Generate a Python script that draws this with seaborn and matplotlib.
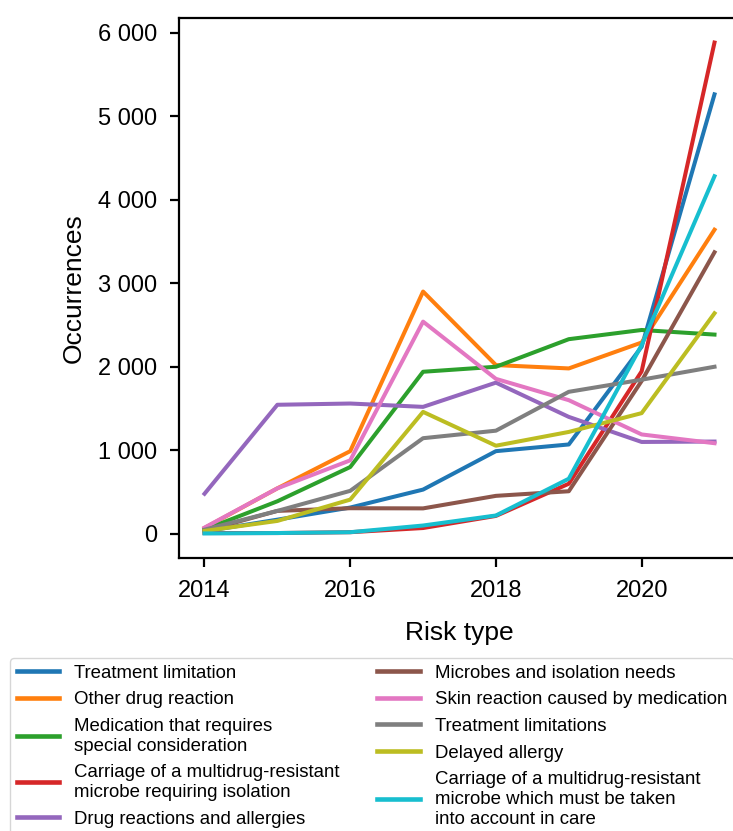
import pandas as pd
import seaborn as sns
import matplotlib.pyplot as plt
from matplotlib.ticker import FuncFormatter

years = [2014, 2015, 2016, 2017, 2018, 2019, 2020, 2021]

risk_types = [
    "Treatment limitation",
    "Other drug reaction",
    "Medication that requires\nspecial consideration",
    "Carriage of a multidrug-resistant\nmicrobe requiring isolation",
    "Drug reactions and allergies",
    "Microbes and isolation needs",
    "Skin reaction caused by medication",
    "Treatment limitations",
    "Delayed allergy",
    "Carriage of a multidrug-resistant\nmicrobe which must be taken\ninto account in care",
]

treatment_limitation = [30, 170, 315, 530, 990, 1070, 2240, 5260]
other_drug_reaction = [70, 545, 990, 2900, 2020, 1980, 2290, 3640]
medication_special = [50, 390, 800, 1940, 2000, 2330, 2440, 2385]
carriage_isolation = [10, 10, 20, 70, 215, 600, 1945, 5880]
drug_reactions_allergies = [480, 1545, 1560, 1520, 1810, 1400, 1100, 1105]
microbes_isolation = [35, 275, 307, 305, 455, 510, 1830, 3370]
skin_reaction = [75, 545, 880, 2540, 1855, 1600, 1190, 1085]
treatment_limitations = [50, 275, 515, 1145, 1235, 1700, 1845, 2000]
delayed_allergy = [35, 155, 410, 1460, 1055, 1220, 1445, 2640]
carriage_care = [5, 10, 20, 100, 220, 660, 2260, 4280]

series = [treatment_limitation, other_drug_reaction, medication_special,
          carriage_isolation, drug_reactions_allergies, microbes_isolation,
          skin_reaction, treatment_limitations, delayed_allergy, carriage_care]

rows = []
for name, vals in zip(risk_types, series):
    for y, v in zip(years, vals):
        rows.append({"year": y, "count": v, "risk": name})
df = pd.DataFrame(rows)

plt.rcParams["font.family"] = ["Liberation Sans", "DejaVu Sans"]
plt.rcParams["axes.linewidth"] = 1.6

fig = plt.figure(figsize=(7.33, 8.31), dpi=100)
ax = fig.add_axes([179 / 733, 1 - 558 / 831, 561 / 733, 540 / 831])

sns.lineplot(data=df, x="year", y="count", hue="risk", hue_order=risk_types,
             palette="tab10", linewidth=2.9, ax=ax)

ax.set_xticks([2014, 2016, 2018, 2020])
ax.yaxis.set_major_formatter(FuncFormatter(lambda v, p: f"{v:,.0f}".replace(",", " ")))
ax.tick_params(labelsize=17, length=6.5, width=1.6)
ax.tick_params(axis="x", pad=9)
ax.tick_params(axis="y", pad=9.4)
ax.set_xlabel("Risk type", fontsize=19, labelpad=14)
ax.set_ylabel("Occurrences", fontsize=19, labelpad=8.5)

handles, labels = ax.get_legend_handles_labels()
ax.get_legend().remove()
leg = fig.legend(handles, labels, loc="upper left", bbox_to_anchor=(10 / 733, 1 - 658 / 831),
                 ncol=2, fontsize=13.4, handlelength=2.3, borderpad=0.35,
                 borderaxespad=0, columnspacing=2.0, labelspacing=0.52)
for h in leg.get_lines():
    h.set_linewidth(3.3)

fig.savefig("out.png", dpi=100)
